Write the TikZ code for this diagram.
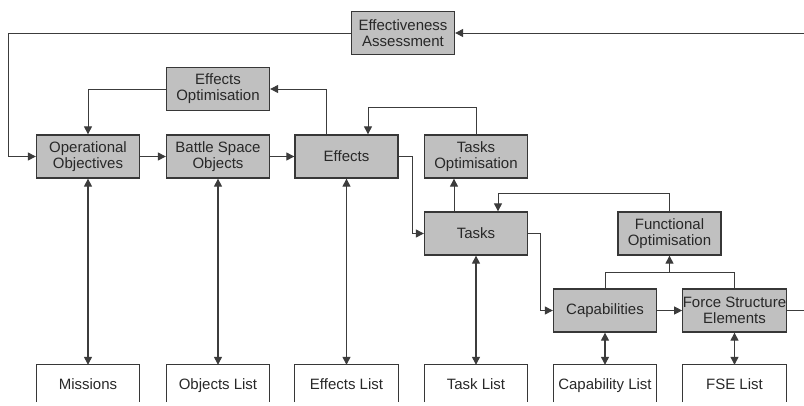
\documentclass[tikz,border=0pt]{standalone}
\usepackage{fontspec}
\setmainfont{Liberation Sans}
\usetikzlibrary{arrows.meta,calc}
\definecolor{boxfill}{RGB}{192,192,192}
\definecolor{boxline}{RGB}{55,55,55}
\definecolor{wireline}{RGB}{60,60,60}
\definecolor{labeltext}{RGB}{40,40,40}
\tikzset{
  procbox/.style={draw=boxline, line width=1.3pt, fill=boxfill, align=center,
    minimum width=103pt, minimum height=43pt, inner sep=0pt, text=labeltext,
    font=\fontsize{15}{16}\selectfont},
  listbox/.style={align=center, minimum width=103pt, minimum height=40pt,
    inner sep=0pt, text=labeltext, text height=11pt, text depth=3pt,
    font=\fontsize{15}{16}\selectfont},
  wire/.style={draw=wireline, line width=1pt},
  arr/.style={wire, -{Triangle[length=8pt,width=8pt]}},
  darr/.style={wire, line width=1.2pt, {Triangle[length=8pt,width=8pt]}-{Triangle[length=8pt,width=8pt]}},
}
\begin{document}
\begin{tikzpicture}[x=1pt,y=-1pt]
\useasboundingbox (0,0) rectangle (804,405);

% process boxes
\node[procbox] (EA)  at (403,33)      {Effectiveness\\Assessment};
\node[procbox] (EO)  at (218,89)      {Effects\\Optimisation};
\node[procbox] (OO)  at (88,156.5)    {Operational\\Objectives};
\node[procbox] (BSO) at (218,156.5)   {Battle Space\\Objects};
\node[procbox] (EF)  at (346.5,156.5) {Effects};
\node[procbox] (TO)  at (476,156.5)   {Tasks\\Optimisation};
\node[procbox] (TK)  at (476,233.5)   {Tasks};
\node[procbox] (FO)  at (669.5,233.5) {Functional\\Optimisation};
\node[procbox] (CP)  at (605,310.5)   {Capabilities};
\node[procbox] (FS)  at (734.5,310.5) {Force Structure\\Elements};

% list boxes along the bottom (open at the lower edge)
\foreach \n/\x/\t in {ML/88/Missions, OL/218/Objects List, EL/346.5/Effects List,
                      TL/476/Task List, CL/605/Capability List, FL/734.5/FSE List}{
  \node[listbox] (\n) at (\x,385) {\t};
  \draw[draw=boxline, line width=1.3pt]
    ([yshift=3pt]\n.south west) -- (\n.north west) -- (\n.north east) -- ([yshift=3pt]\n.south east);
}

% loose ends leaving the picture on the right
\coordinate (inEA) at (804,33);
\coordinate (outFS) at (804,310.5);
\coordinate (fj) at ($(FO.south)+(0,17)$);

% feedback from assessment to objectives
\draw[arr] (inEA) -- (EA.east);
\draw[arr] (EA.west) -| ($(OO.west)+(-27,0)$) -- (OO.west);

% effects optimisation loop
\draw[arr] (EO.west) -| (OO.north);
\draw[arr] ([xshift=-20.5pt]EF.north) |- (EO.east);

% main chain
\draw[arr] (OO.east) -- (BSO.west);
\draw[arr] (BSO.east) -- (EF.west);
\draw[arr] (EF.east) -- ++(14,0) |- (TK.west);
\draw[arr] (TK.east) -- ++(12,0) |- (CP.west);
\draw[arr] (CP.east) -- (FS.west);
\draw[wire] (FS.east) -- (outFS);

% tasks optimisation loop
\draw[arr] ([xshift=-22pt]TK.north) -- ([xshift=-22pt]TO.south);
\draw[arr] (TO.north) -- ++(0,-27) -| ([xshift=21.5pt]EF.north);

% functional optimisation loop
\draw[wire] (CP.north) |- (fj) -| (FS.north);
\draw[arr] (fj) -- (FO.south);
\draw[arr] (FO.north) -- ++(0,-18) -| ([xshift=22pt]TK.north);

% links to the lists
\draw[darr] (OO.south) -- (ML.north);
\draw[darr] (BSO.south) -- (OL.north);
\draw[darr] (EF.south) -- (EL.north);
\draw[darr] (TK.south) -- (TL.north);
\draw[darr] (CP.south) -- (CL.north);
\draw[darr] (FS.south) -- (FL.north);
\end{tikzpicture}
\end{document}
